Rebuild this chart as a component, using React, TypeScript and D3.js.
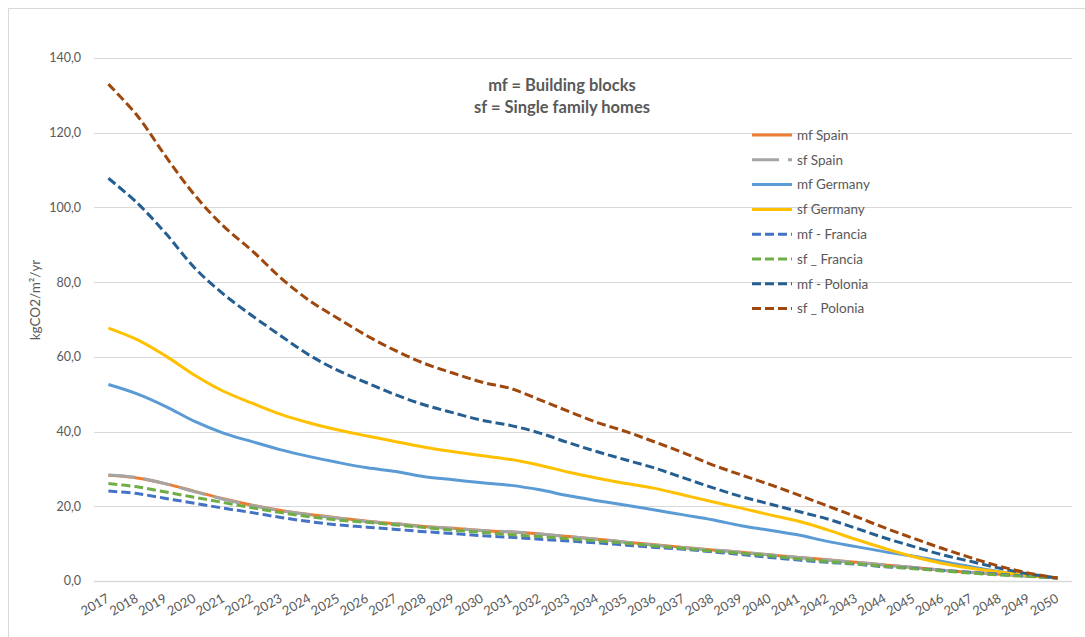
import React from "react";
import * as d3 from "d3";

// Emission pathways per building type and country, kgCO2/m²/yr
const years: number[] = d3.range(2017, 2051);

const mfSpain = [28.3, 27.6, 26.0, 24.0, 22.0, 20.3, 18.9, 17.8, 16.9, 16.0, 15.3, 14.6, 14.1, 13.5, 13.1, 12.6, 11.9, 11.2, 10.4, 9.7, 9.0, 8.3, 7.7, 7.0, 6.3, 5.7, 5.0, 4.3, 3.6, 2.9, 2.3, 1.8, 1.3, 0.9];
const sfSpain = [28.4, 27.7, 26.0, 23.9, 21.9, 20.2, 18.8, 17.7, 16.8, 15.9, 15.3, 14.5, 14.1, 13.5, 13.2, 12.6, 11.9, 11.2, 10.4, 9.6, 8.9, 8.3, 7.7, 7.0, 6.3, 5.6, 5.0, 4.3, 3.6, 2.9, 2.3, 1.8, 1.3, 0.9];
const mfGermany = [52.6, 50.1, 46.7, 42.7, 39.6, 37.3, 35.1, 33.3, 31.7, 30.3, 29.3, 27.9, 27.1, 26.3, 25.6, 24.4, 22.8, 21.5, 20.3, 19.0, 17.7, 16.4, 14.8, 13.6, 12.3, 10.6, 9.2, 7.8, 6.6, 5.2, 3.8, 2.5, 1.6, 0.8];
const sfGermany = [67.7, 64.6, 60.2, 55.1, 50.8, 47.6, 44.6, 42.3, 40.4, 38.8, 37.3, 35.8, 34.6, 33.5, 32.5, 31.0, 29.1, 27.5, 26.1, 24.8, 23.0, 21.2, 19.5, 17.7, 16.0, 13.7, 11.1, 8.7, 6.5, 4.7, 3.4, 2.4, 1.5, 0.8];
const mfFrancia = [24.1, 23.4, 22.1, 20.8, 19.5, 18.3, 17.0, 15.9, 15.0, 14.4, 13.8, 13.2, 12.7, 12.1, 11.7, 11.2, 10.7, 10.2, 9.6, 9.0, 8.5, 7.8, 7.1, 6.3, 5.6, 5.0, 4.5, 3.8, 3.4, 2.8, 2.3, 1.8, 1.3, 0.8];
const sfFrancia = [26.1, 25.2, 23.8, 22.4, 21.0, 19.6, 18.3, 17.2, 16.3, 15.7, 15.0, 14.3, 13.6, 13.0, 12.4, 11.9, 11.3, 10.7, 10.1, 9.4, 8.7, 8.0, 7.4, 6.7, 5.9, 5.2, 4.6, 3.9, 3.3, 2.7, 2.1, 1.6, 1.2, 0.8];
const mfPolonia = [107.8, 101.2, 93.0, 83.8, 76.8, 71.0, 65.6, 60.4, 56.3, 53.0, 49.8, 47.1, 45.0, 43.0, 41.6, 39.6, 37.0, 34.6, 32.4, 30.2, 27.6, 25.0, 22.6, 20.6, 18.6, 16.6, 14.1, 11.5, 9.2, 7.0, 5.2, 3.4, 1.9, 0.8];
const sfPolonia = [133.0, 124.6, 113.6, 103.3, 95.0, 88.4, 81.1, 75.0, 70.2, 65.6, 61.6, 58.2, 55.6, 53.2, 51.5, 48.5, 45.4, 42.4, 40.0, 37.2, 34.3, 31.1, 28.4, 25.8, 23.0, 20.1, 17.2, 14.2, 11.4, 8.7, 6.2, 3.9, 2.1, 0.8];

const seriesNames = ["mf Spain", "sf Spain", "mf Germany", "sf Germany", "mf - Francia", "sf _ Francia", "mf - Polonia", "sf _ Polonia"];
const seriesValues = [mfSpain, sfSpain, mfGermany, sfGermany, mfFrancia, sfFrancia, mfPolonia, sfPolonia];
const seriesColors = ["#ED7D31", "#A5A5A5", "#5B9BD5", "#FFC000", "#4472C4", "#70AD47", "#255E91", "#9E480E"];
const seriesDash = ["", "27 9", "", "", "9 4", "9 4", "9 4", "9 4"];

const yTicks = [0, 20, 40, 60, 80, 100, 120, 140];
const titleLines = ["mf = Building blocks", "sf = Single family homes"];
const yAxisTitle = "kgCO2/m²/yr";

const W = 1085;
const H = 637;
const plot = { left: 94, right: 1072, top: 58, bottom: 581 };
const font = "Lato, 'Open Sans', sans-serif";
const textColor = "#595959";

export default function App() {
  const x = d3
    .scalePoint<number>()
    .domain(years)
    .range([plot.left, plot.right])
    .padding(0.5);
  const y = d3.scaleLinear().domain([0, 140]).range([plot.bottom, plot.top]);

  const line = d3
    .line<number>()
    .x((_, i) => x(years[i]) as number)
    .y((v) => y(v))
    .curve(d3.curveCatmullRom.alpha(0.5));

  const legendX = 752;
  const legendY0 = 135;
  const legendStep = 24.8;

  return (
    <svg
      width={W}
      height={H}
      style={{ position: "absolute", left: 0, top: 0, background: "#fff" }}
      fontFamily={font}
    >
      <rect x={0} y={0} width={W} height={H} fill="#fff" />
      <rect x={8.5} y={8.5} width={W + 10} height={H + 10} fill="none" stroke="#d9d9d9" strokeWidth={1} />

      {/* gridlines and value labels */}
      {yTicks.map((t) => (
        <g key={t}>
          <line
            x1={plot.left}
            x2={plot.right}
            y1={Math.round(y(t)) + 0.5}
            y2={Math.round(y(t)) + 0.5}
            stroke="#d9d9d9"
            strokeWidth={t === 0 ? 1.5 : 1}
          />
          <text
            x={81}
            y={y(t)}
            dy="0.35em"
            textAnchor="end"
            fontSize={12.5}
            fill={textColor}
          >
            {d3.format(".1f")(t).replace(".", ",")}
          </text>
        </g>
      ))}

      {/* year labels */}
      {years.map((yr) => {
        const px = x(yr) as number;
        return (
          <text
            key={yr}
            transform={`translate(${px + 2},${601}) rotate(-30)`}
            textAnchor="end"
            fontSize={13}
            fill={textColor}
          >
            {yr}
          </text>
        );
      })}

      <text
        transform={`translate(40,${300}) rotate(-90)`}
        textAnchor="middle"
        fontSize={13.5}
        fill={textColor}
      >
        {yAxisTitle}
      </text>

      {/* series */}
      {seriesValues.map((vals, i) => (
        <path
          key={seriesNames[i]}
          d={line(vals) || ""}
          fill="none"
          stroke={seriesColors[i]}
          strokeWidth={3}
          strokeDasharray={seriesDash[i] || undefined}
          strokeLinejoin="round"
        />
      ))}

      {/* annotation */}
      {titleLines.map((t, i) => (
        <text
          key={t}
          x={562}
          y={91 + i * 22}
          textAnchor="middle"
          fontSize={16.5}
          fontWeight="bold"
          fill={textColor}
        >
          {t}
        </text>
      ))}

      {/* legend */}
      {seriesNames.map((name, i) => {
        const ly = legendY0 + i * legendStep;
        return (
          <g key={name}>
            <line
              x1={legendX}
              x2={legendX + 40}
              y1={ly}
              y2={ly}
              stroke={seriesColors[i]}
              strokeWidth={3}
              strokeDasharray={seriesDash[i] || undefined}
            />
            <text x={legendX + 45} y={ly} dy="0.35em" fontSize={13.5} fill={textColor}>
              {name}
            </text>
          </g>
        );
      })}
    </svg>
  );
}
